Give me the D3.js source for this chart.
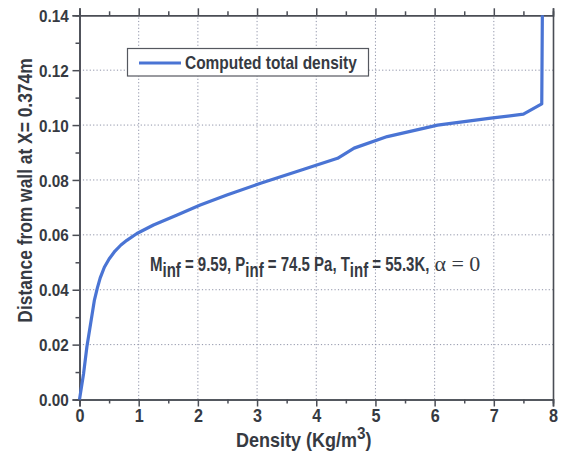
<!DOCTYPE html>
<html><head><meta charset="utf-8">
<script src="https://cdn.jsdelivr.net/npm/d3@7"></script>
<style>
html,body{margin:0;padding:0;background:#fff;}
svg text{font-family:"Liberation Sans",Arial,sans-serif;font-weight:bold;fill:#363a42;}
</style></head>
<body><svg id="c" width="564" height="455"></svg>
<script>
// Data
const density  = [0, 0.07, 0.125, 0.25, 0.3, 0.35, 0.42, 0.5, 0.6, 0.7, 0.8, 0.97, 1.25, 1.65, 2.04, 2.49, 3.06, 3.79, 4.36, 4.64, 5.2, 6.05, 6.95, 7.5, 7.81, 7.82];
const distance = [0, 0.0096, 0.0192, 0.036, 0.0405, 0.0443, 0.0482, 0.0512, 0.0541, 0.0563, 0.058, 0.0605, 0.0636, 0.0672, 0.0709, 0.0745, 0.0788, 0.0839, 0.0879, 0.0916, 0.0958, 0.1, 0.1025, 0.104, 0.1077, 0.14];
const xTicks = [0,1,2,3,4,5,6,7,8];
const xMinor = [0.5,1.5,2.5,3.5,4.5,5.5,6.5,7.5];
const yTicks = [0,0.02,0.04,0.06,0.08,0.10,0.12,0.14];
const yMinor = [0.01,0.03,0.05,0.07,0.09,0.11,0.13];
const seriesName = "Computed total density";

(function(){
const svg = d3.select("#c");
const x = d3.scaleLinear().domain([0,8]).range([79.5,553]);
const y = d3.scaleLinear().domain([0,0.14]).range([399.5,15.3]);
const axisCol = "#4a4d55";

// grid
const g = svg.append("g");
g.selectAll(".gx").data(xTicks.slice(1,-1)).join("line")
  .attr("x1",d=>x(d)).attr("x2",d=>x(d)).attr("y1",y(0)).attr("y2",y(0.14))
  .attr("stroke","#8f93a8").attr("stroke-width",1).attr("stroke-dasharray","1.2,2.2");
g.selectAll(".gy").data(yTicks.slice(1,-1)).join("line")
  .attr("y1",d=>y(d)).attr("y2",d=>y(d)).attr("x1",x(0)).attr("x2",x(8))
  .attr("stroke","#8f93a8").attr("stroke-width",1).attr("stroke-dasharray","1.2,2.2");

// axes
const aBottom = svg.append("g").attr("transform",`translate(0,${y(0)})`)
  .call(d3.axisBottom(x).tickValues(xTicks).tickSize(7).tickFormat(d3.format("d")));
const aBottomMinor = svg.append("g").attr("transform",`translate(0,${y(0)})`)
  .call(d3.axisBottom(x).tickValues(xMinor).tickSize(4).tickFormat(""));
const aTop = svg.append("g").attr("transform",`translate(0,${y(0.14)})`)
  .call(d3.axisTop(x).tickValues(xTicks).tickSize(7).tickFormat(""));
const aTopMinor = svg.append("g").attr("transform",`translate(0,${y(0.14)})`)
  .call(d3.axisTop(x).tickValues(xMinor).tickSize(4).tickFormat(""));
const aLeft = svg.append("g").attr("transform",`translate(${x(0)},0)`)
  .call(d3.axisLeft(y).tickValues(yTicks).tickSize(7).tickFormat(d3.format(".2f")));
const aLeftMinor = svg.append("g").attr("transform",`translate(${x(0)},0)`)
  .call(d3.axisLeft(y).tickValues(yMinor).tickSize(4).tickFormat(""));
const aRight = svg.append("g").attr("transform",`translate(${x(8)},0)`)
  .call(d3.axisRight(y).tickValues([]).tickSizeOuter(0).tickFormat(""));
[aBottom,aBottomMinor,aTop,aTopMinor,aLeft,aLeftMinor,aRight].forEach(a=>{
  a.selectAll("path").attr("stroke",axisCol).attr("stroke-width",1.6);
  a.selectAll("line").attr("stroke",axisCol).attr("stroke-width",1.5);
  a.selectAll("text").attr("font-family",null).attr("fill",null);
});
aBottom.selectAll("text").attr("font-size",18).attr("y",10).attr("dy","0.71em")
  .attr("transform","scale(0.9,1)");
aLeft.selectAll("text").attr("font-size",17).attr("dy","0.36em")
  .attr("transform","scale(0.9,1)").attr("x",-12);

// line
const pts = density.map((d,i)=>[d,distance[i]]);
svg.append("path").datum(pts)
  .attr("fill","none").attr("stroke","#4a74d4").attr("stroke-width",3.2)
  .attr("stroke-linejoin","round")
  .attr("d",d3.line().x(d=>x(d[0])).y(d=>y(d[1])));

// legend
const lg = svg.append("g");
lg.append("rect").attr("x",127.5).attr("y",48.5).attr("width",241).attr("height",27.5)
  .attr("fill","#fff").attr("stroke","#55585f").attr("stroke-width",1.2);
lg.append("line").attr("x1",139).attr("x2",181).attr("y1",63).attr("y2",63)
  .attr("stroke","#4a74d4").attr("stroke-width",3.2);
lg.append("text").attr("transform","translate(185,69) scale(0.86,1)").attr("font-size",18).text(seriesName);

// annotation
const annSx = 0.75;
const ann = svg.append("text").attr("transform",`translate(150,271) scale(${annSx},1)`).attr("font-size",20);
const parts = [["M",0],["inf",1],[" = 9.59, P",0],["inf",1],[" = 74.5 Pa, T",0],["inf",1],[" = 55.3K,",0]];
let prevSub=0;
parts.forEach(([s,sub])=>{
  const dy = sub===prevSub?0:(sub?6:-6);
  ann.append("tspan").attr("dy",dy).text(s);
  prevSub=sub;
});
const annW = ann.node().getComputedTextLength()*annSx;
svg.append("text").attr("x",150+annW+5).attr("y",271)
  .style("font-family","'Liberation Serif','Times New Roman',serif").style("font-weight","normal")
  .attr("font-size",22).text("\u03b1 = 0");

// axis titles
const xt = svg.append("text").attr("transform","translate(236,447) scale(0.9,1)").attr("font-size",20);
xt.append("tspan").text("Density (Kg/m");
xt.append("tspan").attr("dy",-8).attr("font-size",17).text("3");
xt.append("tspan").attr("dy",8).text(")");

svg.append("text").attr("transform","translate(32,190.5) rotate(-90) scale(0.87,1)")
  .attr("text-anchor","middle").attr("font-size",20).text("Distance from wall at X= 0.374m");
})();
</script></body></html>
